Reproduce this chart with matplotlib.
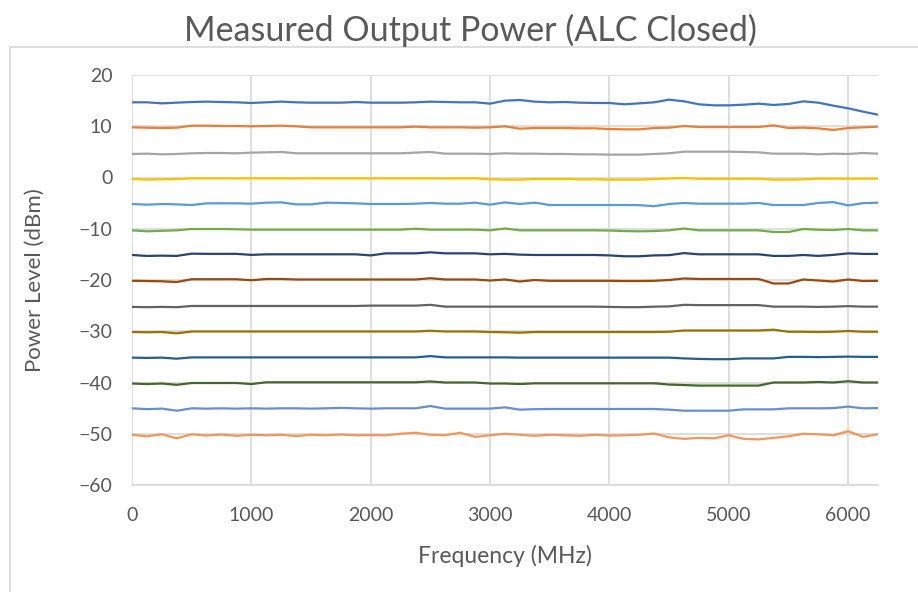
import matplotlib
matplotlib.use("Agg")
import matplotlib.pyplot as plt
from matplotlib import font_manager
from matplotlib.patches import Rectangle

# sweep points (MHz)
freq = list(range(0, 6251, 125))

# measured output power per set level (dBm)
p15 = [14.67, 14.67, 14.47, 14.6, 14.73, 14.8, 14.73, 14.67, 14.54, 14.67,
       14.8, 14.67, 14.6, 14.6, 14.6, 14.73, 14.6, 14.6, 14.6, 14.67,
       14.8, 14.73, 14.67, 14.67, 14.41, 14.99, 15.12, 14.8, 14.67, 14.73,
       14.6, 14.54, 14.54, 14.28, 14.47, 14.67, 15.19, 14.86, 14.28, 14.08,
       14.08, 14.21, 14.41, 14.15, 14.34, 14.86, 14.6, 14.02, 13.5, 12.85,
       12.26]
p10 = [9.79, 9.72, 9.66, 9.72, 10.11, 10.11, 10.05, 10.05, 9.98, 10.05,
       10.11, 9.98, 9.79, 9.79, 9.79, 9.79, 9.79, 9.79, 9.79, 9.92,
       9.79, 9.79, 9.79, 9.72, 9.79, 9.98, 9.53, 9.66, 9.66, 9.66,
       9.6, 9.6, 9.46, 9.4, 9.4, 9.66, 9.72, 10.05, 9.85, 9.85,
       9.85, 9.85, 9.85, 10.18, 9.66, 9.72, 9.6, 9.27, 9.66, 9.79,
       9.92]
p5 = [4.59, 4.65, 4.52, 4.59, 4.72, 4.78, 4.78, 4.72, 4.85, 4.91,
      4.98, 4.72, 4.72, 4.72, 4.72, 4.72, 4.72, 4.72, 4.72, 4.85,
      4.98, 4.65, 4.65, 4.65, 4.59, 4.72, 4.65, 4.65, 4.59, 4.59,
      4.52, 4.52, 4.46, 4.46, 4.46, 4.59, 4.72, 5.04, 5.04, 5.04,
      5.04, 4.98, 4.91, 4.65, 4.65, 4.65, 4.52, 4.65, 4.59, 4.78,
      4.65]
p0 = [-0.29, -0.4, -0.35, -0.3, -0.16, -0.16, -0.16, -0.18, -0.16, -0.16,
      -0.16, -0.18, -0.16, -0.16, -0.16, -0.16, -0.18, -0.16, -0.16, -0.16,
      -0.16, -0.18, -0.16, -0.16, -0.35, -0.42, -0.42, -0.3, -0.3, -0.3,
      -0.35, -0.35, -0.42, -0.42, -0.42, -0.3, -0.2, -0.1, -0.25, -0.25,
      -0.25, -0.25, -0.25, -0.42, -0.42, -0.35, -0.23, -0.23, -0.23, -0.23,
      -0.23]
m5 = [-5.17, -5.3, -5.17, -5.24, -5.37, -5.04, -5.04, -5.04, -5.11, -4.91,
      -4.85, -5.24, -5.24, -4.91, -4.97, -5.04, -5.17, -5.17, -5.17, -5.11,
      -4.97, -5.11, -5.11, -4.91, -5.3, -4.85, -5.17, -4.91, -5.37, -5.37,
      -5.37, -5.37, -5.37, -5.37, -5.4, -5.6, -5.17, -4.97, -5.11, -5.11,
      -5.11, -5.11, -4.97, -5.37, -5.37, -5.37, -4.97, -4.8, -5.45, -5.0,
      -4.91]
m10 = [-10.31, -10.5, -10.4, -10.31, -10.05, -10.05, -10.05, -10.1, -10.18, -10.18,
       -10.18, -10.18, -10.18, -10.18, -10.18, -10.18, -10.18, -10.18, -10.18, -10.0,
       -10.18, -10.18, -10.18, -10.18, -10.31, -9.95, -10.31, -10.31, -10.31, -10.31,
       -10.31, -10.31, -10.35, -10.45, -10.5, -10.45, -10.31, -9.95, -10.31, -10.31,
       -10.31, -10.31, -10.31, -10.63, -10.63, -10.05, -10.2, -10.25, -10.05, -10.31,
       -10.31]
m15 = [-15.12, -15.3, -15.25, -15.3, -14.86, -14.9, -14.9, -14.9, -15.1, -14.99,
       -14.99, -14.99, -14.99, -14.99, -14.99, -14.99, -15.2, -14.8, -14.8, -14.8,
       -14.6, -14.8, -14.8, -14.8, -14.99, -14.9, -15.05, -15.12, -15.12, -15.12,
       -15.12, -15.12, -15.2, -15.37, -15.37, -15.2, -15.15, -14.75, -14.99, -14.99,
       -14.99, -14.99, -14.99, -15.3, -15.3, -15.12, -15.3, -15.1, -14.8, -14.9,
       -14.92]
m20 = [-20.16, -20.2, -20.25, -20.4, -19.85, -19.85, -19.85, -19.85, -20.05, -19.8,
       -19.8, -19.9, -19.9, -19.9, -19.9, -19.9, -19.9, -19.9, -19.9, -19.9,
       -19.65, -19.9, -19.9, -19.9, -20.1, -19.9, -20.29, -20.0, -20.16, -20.16,
       -20.16, -20.16, -20.16, -20.2, -20.2, -20.16, -20.0, -19.7, -19.8, -19.8,
       -19.8, -19.8, -19.8, -20.68, -20.68, -19.9, -20.1, -20.3, -19.9, -20.2,
       -20.16]
m25 = [-25.25, -25.3, -25.25, -25.3, -25.07, -25.07, -25.07, -25.07, -25.07, -25.07,
       -25.07, -25.07, -25.07, -25.07, -25.07, -25.07, -25.0, -25.0, -25.0, -25.0,
       -24.85, -25.2, -25.2, -25.2, -25.2, -25.2, -25.2, -25.2, -25.2, -25.2,
       -25.2, -25.2, -25.25, -25.3, -25.3, -25.2, -25.15, -24.85, -24.9, -24.9,
       -24.9, -24.9, -24.9, -25.2, -25.2, -25.2, -25.25, -25.2, -25.1, -25.2,
       -25.2]
m30 = [-30.15, -30.2, -30.15, -30.4, -30.05, -30.05, -30.05, -30.05, -30.05, -30.05,
       -30.05, -30.05, -30.05, -30.05, -30.05, -30.05, -30.05, -30.05, -30.05, -30.05,
       -29.9, -30.05, -30.05, -30.05, -30.15, -30.2, -30.28, -30.15, -30.15, -30.15,
       -30.15, -30.15, -30.15, -30.15, -30.15, -30.15, -30.1, -29.85, -29.85, -29.85,
       -29.85, -29.85, -29.85, -29.7, -30.1, -30.1, -30.15, -30.1, -29.95, -30.1,
       -30.1]
m35 = [-35.15, -35.2, -35.15, -35.35, -35.1, -35.1, -35.1, -35.1, -35.1, -35.1,
       -35.1, -35.1, -35.1, -35.1, -35.1, -35.1, -35.1, -35.1, -35.1, -35.1,
       -34.85, -35.1, -35.1, -35.1, -35.1, -35.1, -35.15, -35.15, -35.15, -35.15,
       -35.15, -35.15, -35.15, -35.15, -35.15, -35.15, -35.15, -35.3, -35.4, -35.45,
       -35.45, -35.3, -35.3, -35.3, -35.0, -35.0, -35.05, -35.0, -34.95, -35.0,
       -35.0]
m40 = [-40.2, -40.3, -40.2, -40.45, -40.1, -40.1, -40.1, -40.1, -40.3, -39.96,
       -39.96, -39.96, -39.96, -39.96, -39.96, -39.96, -39.96, -39.96, -39.96, -39.96,
       -39.8, -40.0, -40.0, -40.0, -40.2, -40.2, -40.3, -40.16, -40.16, -40.16,
       -40.16, -40.16, -40.16, -40.16, -40.16, -40.16, -40.4, -40.5, -40.6, -40.6,
       -40.6, -40.6, -40.6, -40.0, -40.0, -40.0, -39.9, -40.0, -39.75, -40.0,
       -40.0]
m45 = [-45.04, -45.2, -45.1, -45.5, -45.04, -45.1, -45.04, -45.1, -45.04, -45.1,
       -45.04, -45.04, -45.1, -45.04, -44.95, -45.04, -45.1, -45.04, -45.04, -45.04,
       -44.6, -45.1, -45.1, -45.1, -45.1, -44.85, -45.3, -45.2, -45.17, -45.17,
       -45.17, -45.17, -45.17, -45.17, -45.17, -45.17, -45.3, -45.5, -45.5, -45.5,
       -45.5, -45.24, -45.24, -45.24, -45.04, -45.04, -45.04, -45.0, -44.7, -45.04,
       -45.0]
m50 = [-50.2, -50.5, -50.1, -50.9, -50.1, -50.35, -50.15, -50.4, -50.2, -50.3,
       -50.2, -50.45, -50.2, -50.3, -50.15, -50.3, -50.25, -50.3, -50.0, -49.8,
       -50.2, -50.3, -49.8, -50.6, -50.3, -50.0, -50.2, -50.4, -50.2, -50.3,
       -50.4, -50.2, -50.35, -50.3, -50.2, -49.95, -50.7, -51.0, -50.8, -50.9,
       -50.3, -51.0, -51.1, -50.8, -50.5, -50.0, -50.1, -50.3, -49.5, -50.6,
       -50.1]

series = [p15, p10, p5, p0, m5, m10, m15, m20, m25, m30, m35, m40, m45, m50]
colors = ["#4472C4", "#ED7D31", "#A5A5A5", "#FFC000", "#5B9BD5", "#70AD47", "#264478",
          "#9E480E", "#636363", "#997300", "#255E91", "#43682B", "#698ED0", "#F1975A"]

installed = {f.name for f in font_manager.fontManager.ttflist}
fam = "Lato" if "Lato" in installed else "DejaVu Sans"
plt.rcParams["font.family"] = fam
txt = "#595959"
grid = "#D9D9D9"

fig = plt.figure(figsize=(9.18, 5.92), dpi=100)
ax = fig.add_axes([132 / 918, 1 - 485 / 592, (878 - 132) / 918, (485 - 75) / 592])

for y, c in zip(series, colors):
    ax.plot(freq, y, color=c, lw=1.6, solid_joinstyle="round")

ax.set_xlim(0, 6250)
ax.set_ylim(-60, 20)
ax.set_xticks(range(0, 6001, 1000))
ax.set_yticks(range(-60, 21, 10))
ax.grid(color=grid, lw=1.2)
ax.set_axisbelow(True)
for s in ax.spines.values():
    s.set_visible(False)
ax.spines["bottom"].set_visible(True)
ax.spines["bottom"].set_color(grid)
ax.spines["bottom"].set_linewidth(1.2)
ax.tick_params(length=0, labelsize=14, colors=txt)
ax.tick_params(axis="x", pad=16)
ax.tick_params(axis="y", pad=14)

ax.set_xlabel("Frequency (MHz)", fontsize=16.5, color=txt, labelpad=15)
ax.set_ylabel("Power Level (dBm)", fontsize=16, color=txt, labelpad=24)
fig.text(470 / 918, 1 - 30 / 592, "Measured Output Power (ALC Closed)",
         ha="center", va="center", fontsize=24.5, color=txt)

# chart frame
fig.patches.append(Rectangle((10 / 918, -0.1), 1.0, (592 - 47) / 592 + 0.1,
                             transform=fig.transFigure, fill=False, ec=grid, lw=1.2))

fig.savefig("out.png", dpi=100)
